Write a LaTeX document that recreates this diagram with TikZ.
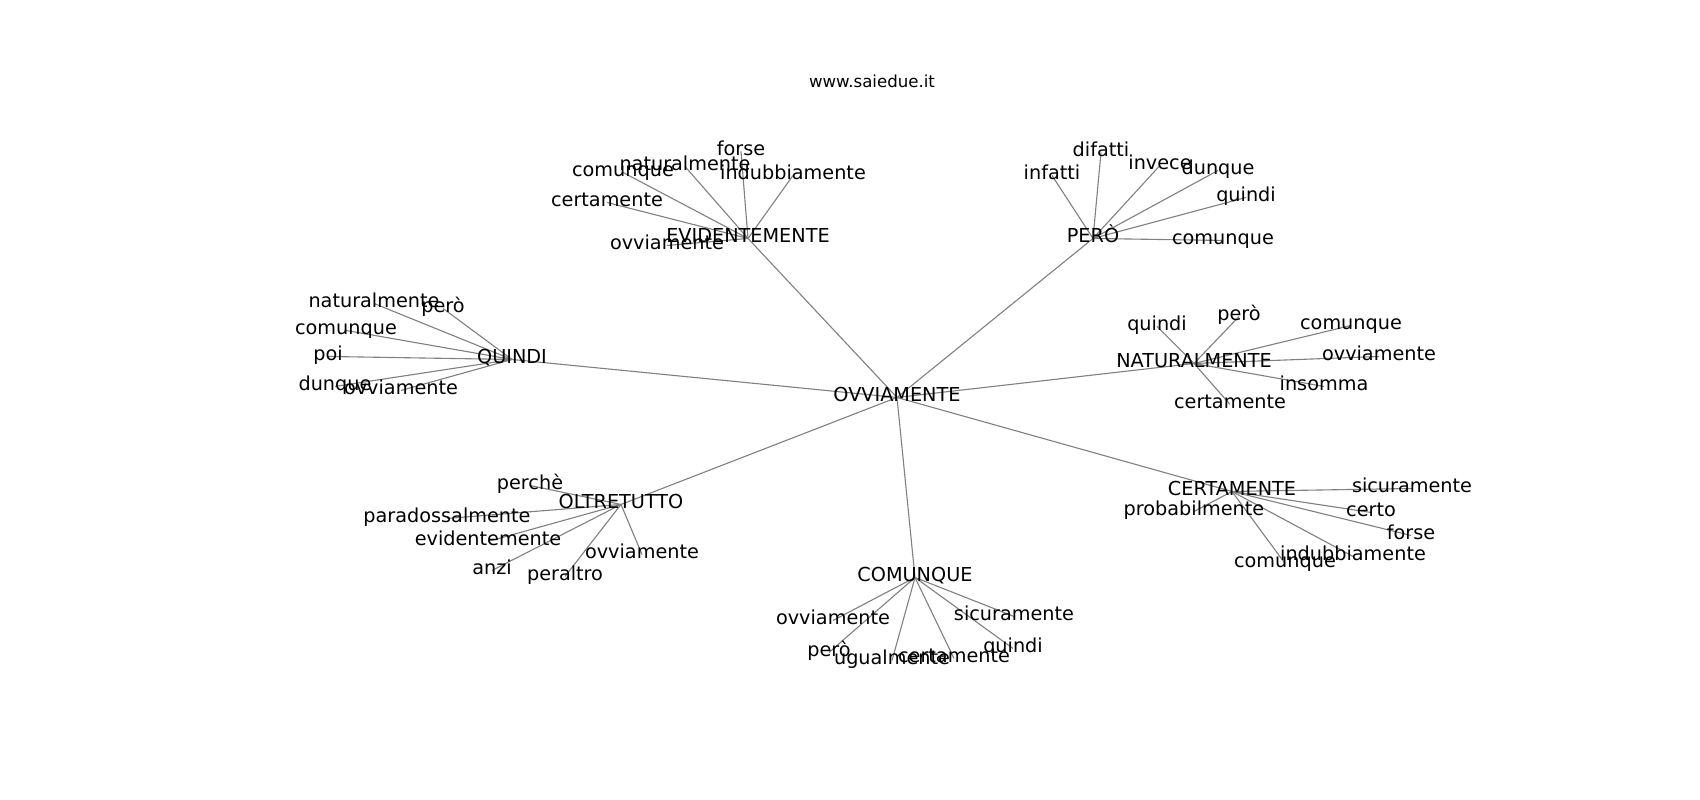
\documentclass[tikz,border=0pt]{standalone}
\usepackage{fontspec}
\setmainfont{DejaVu Sans}
\usetikzlibrary{backgrounds}

\begin{document}
\begin{tikzpicture}[x=0.01in, y=-0.01in,
    word/.style={font=\fontsize{13.9}{16}\selectfont, inner sep=0pt, text height=0.76em, text depth=0.24em, yshift=-2.5pt},
    link/.style={draw=gray, line width=0.8pt}]
    \useasboundingbox (0,0) rectangle (1700,800);

    % Title
    \node[font=\fontsize{12}{14}\selectfont] (title) at (872,81) {www.saiedue.it};

    % Main words
    \node[word] (hub) at (897,394) {OVVIAMENTE};
    \node[word] (evid) at (748,235) {EVIDENTEMENTE};
    \node[word] (pero) at (1093,235) {PERÒ};
    \node[word] (quindi) at (512,356) {QUINDI};
    \node[word] (natur) at (1194,360) {NATURALMENTE};
    \node[word] (oltre) at (621,501) {OLTRETUTTO};
    \node[word] (comunq) at (915,574) {COMUNQUE};
    \node[word] (certa) at (1232,488) {CERTAMENTE};

    % Leaves of EVIDENTEMENTE
    \foreach \n/\x/\y/\t in {1/741/148/forse, 2/685/163/naturalmente, 3/793/172/indubbiamente,
        4/623/169/comunque, 5/607/199/certamente, 6/667/242/ovviamente}
        \node[word] (ev\n) at (\x,\y) {\t};

    % Leaves of PERO
    \foreach \n/\x/\y/\t in {1/1052/172/infatti, 2/1101/149/difatti, 3/1160/162/invece,
        4/1218/167/dunque, 5/1246/194/quindi, 6/1223/237/comunque}
        \node[word] (pe\n) at (\x,\y) {\t};

    % Leaves of QUINDI
    \foreach \n/\x/\y/\t in {1/374/300/naturalmente, 2/443/305/però, 3/346/327/comunque,
        4/328/353/poi, 5/335/383/dunque, 6/401/387/ovviamente}
        \node[word] (qu\n) at (\x,\y) {\t};

    % Leaves of NATURALMENTE
    \foreach \n/\x/\y/\t in {1/1157/323/quindi, 2/1239/313/però, 3/1351/322/comunque,
        4/1379/353/ovviamente, 5/1324/383/insomma, 6/1230/401/certamente}
        \node[word] (na\n) at (\x,\y) {\t};

    % Leaves of OLTRETUTTO
    \foreach \n/\x/\y/\t in {1/530/482/perchè, 2/447/515/paradossalmente, 3/488/538/evidentemente,
        4/492/567/anzi, 5/565/573/peraltro, 6/642/551/ovviamente}
        \node[word] (ol\n) at (\x,\y) {\t};

    % Leaves of COMUNQUE
    \foreach \n/\x/\y/\t in {1/833/617/ovviamente, 2/829/649/però, 3/892/657/ugualmente,
        4/954/655/certamente, 5/1013/645/quindi, 6/1014/613/sicuramente}
        \node[word] (co\n) at (\x,\y) {\t};

    % Leaves of CERTAMENTE
    \foreach \n/\x/\y/\t in {1/1412/485/sicuramente, 2/1194/508/probabilmente, 3/1371/509/certo,
        4/1411/532/forse, 5/1353/553/indubbiamente, 6/1285/560/comunque}
        \node[word] (ce\n) at (\x,\y) {\t};

    % Connectors
    \begin{scope}[on background layer]
        \foreach \m in {evid, pero, quindi, natur, oltre, comunq, certa}
            \draw[link] (hub.center) -- (\m.center);
        \foreach \n in {1,...,6} {
            \draw[link] (evid.center) -- (ev\n.center);
            \draw[link] (pero.center) -- (pe\n.center);
            \draw[link] (quindi.center) -- (qu\n.center);
            \draw[link] (natur.center) -- (na\n.center);
            \draw[link] (oltre.center) -- (ol\n.center);
            \draw[link] (comunq.center) -- (co\n.center);
            \draw[link] (certa.center) -- (ce\n.center);
        }
    \end{scope}
\end{tikzpicture}
\end{document}
